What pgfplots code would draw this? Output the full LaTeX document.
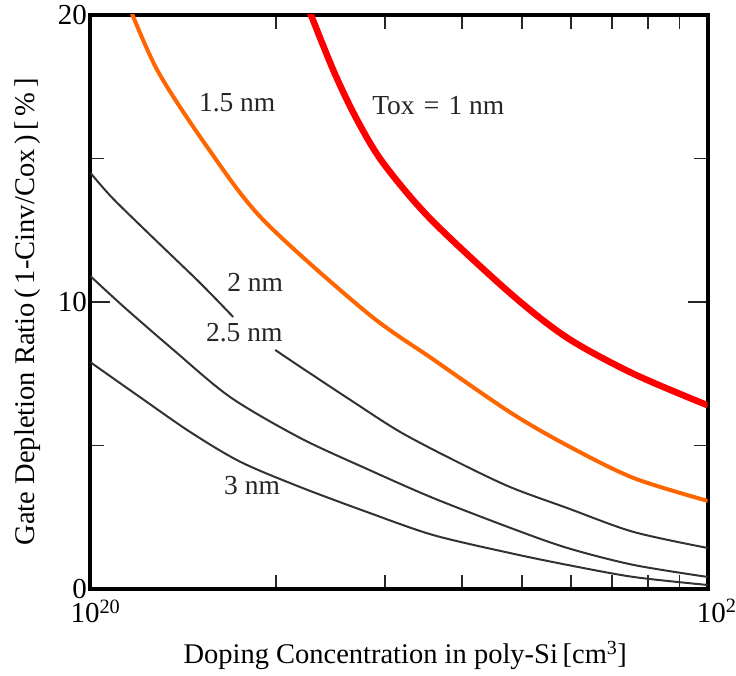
\documentclass[border=0pt]{standalone}
\usepackage{fontspec}
\setmainfont{Liberation Serif}
\usepackage{pgfplots}
\pgfplotsset{compat=1.18}

\definecolor{toxred}{RGB}{255,0,0}
\definecolor{toxorange}{RGB}{255,102,0}
\definecolor{curvegray}{RGB}{50,50,50}

\begin{document}
\begin{tikzpicture}
\begin{axis}[
  at={(0pt,0pt)}, anchor=south west,
  scale only axis, width=617.2pt, height=574pt,
  xmode=log, xmin=1e20, xmax=1e21, ymin=0, ymax=20,
  axis line style={line width=4pt, black},
  tick align=inside,
  xtick={1e20,1e21},
  xticklabels={10\textsuperscript{20},\hspace*{18pt}10\textsuperscript{21}},
  minor xtick={2e20,3e20,4e20,5e20,6e20,7e20,8e20,9e20},
  ytick={0,10,20}, yticklabels={0,10,20},
  minor ytick={5,15},
  major tick length=20pt, minor tick length=14pt,
  every tick/.style={line width=1.8pt, black!85},
  tick label style={font=\fontsize{29}{30}\selectfont},
  xticklabel style={yshift=-7pt, xshift=5pt},
  label style={font=\fontsize{28.5}{30}\selectfont},
  xlabel={Doping Concentration in poly-Si\,[cm\textsuperscript{3}]},
  ylabel={Gate Depletion Ratio\,(\,1-Cinv/Cox\,)\,[\,\%\,]},
  xlabel style={at={(axis description cs:0.51,-0.115)}, anchor=center},
  ylabel style={at={(axis description cs:-0.102,0.483)}, anchor=center},
  clip=true,
]
% Tox = 1 nm
\addplot[toxred, line width=6.5pt, smooth] coordinates {
  (2.22e20,20.6) (2.474e20,18.08) (2.705e20,16.34) (2.981e20,14.84)
  (3.553e20,12.9) (4.79e20,10.3) (5.925e20,8.75) (7.58e20,7.5) (1e21,6.4)
};
% Tox = 1.5 nm
\addplot[toxorange, line width=4pt, smooth] coordinates {
  (1.14e20,20.6) (1.283e20,18.08) (1.546e20,15.4) (1.905e20,12.86)
  (2.808e20,9.62) (3.592e20,8.0) (4.79e20,6.15) (5.925e20,5.0)
  (7.58e20,3.87) (1e21,3.07)
};
% Tox = 2 nm (broken where the 2.5 nm label sits)
\addplot[curvegray, line width=2pt, smooth] coordinates {
  (1e20,14.5) (1.088e20,13.6) (1.283e20,12.1) (1.506e20,10.66) (1.703e20,9.48)
};
\addplot[curvegray, line width=2pt, smooth] coordinates {
  (1.992e20,8.33) (2.188e20,7.74) (2.636e20,6.59) (3.177e20,5.47)
  (3.929e20,4.43) (4.79e20,3.55) (5.925e20,2.82) (7.58e20,1.99) (1e21,1.43)
};
% Tox = 2.5 nm
\addplot[curvegray, line width=2pt, smooth] coordinates {
  (1e20,10.9) (1.13e20,9.85) (1.363e20,8.33) (1.686e20,6.68)
  (2.188e20,5.26) (2.808e20,4.18) (3.592e20,3.17) (4.79e20,2.13)
  (5.925e20,1.43) (7.58e20,0.84) (1e21,0.42)
};
% Tox = 3 nm
\addplot[curvegray, line width=2pt, smooth] coordinates {
  (1e20,7.9) (1.204e20,6.68) (1.451e20,5.47) (1.75e20,4.43)
  (2.188e20,3.55) (2.808e20,2.68) (3.592e20,1.88) (4.79e20,1.25)
  (5.925e20,0.84) (7.58e20,0.42) (1e21,0.14)
};
% curve labels
\begin{scope}[every node/.style={font=\fontsize{27.5}{30}\selectfont, text=black!85, inner sep=0pt}]
\node at (axis cs:1.729e20,16.93) {1.5 nm};
\node at (axis cs:3.661e20,16.86) {Tox\,\,=\,\,1 nm};
\node at (axis cs:1.849e20,10.70) {2 nm};
\node at (axis cs:1.775e20,8.92) {2.5 nm};
\node at (axis cs:1.828e20,3.62) {3 nm};
\end{scope}
\end{axis}
\pgfresetboundingbox
\path (-90.3pt,-86pt) rectangle (645.7pt,589pt);
\end{tikzpicture}
\end{document}
